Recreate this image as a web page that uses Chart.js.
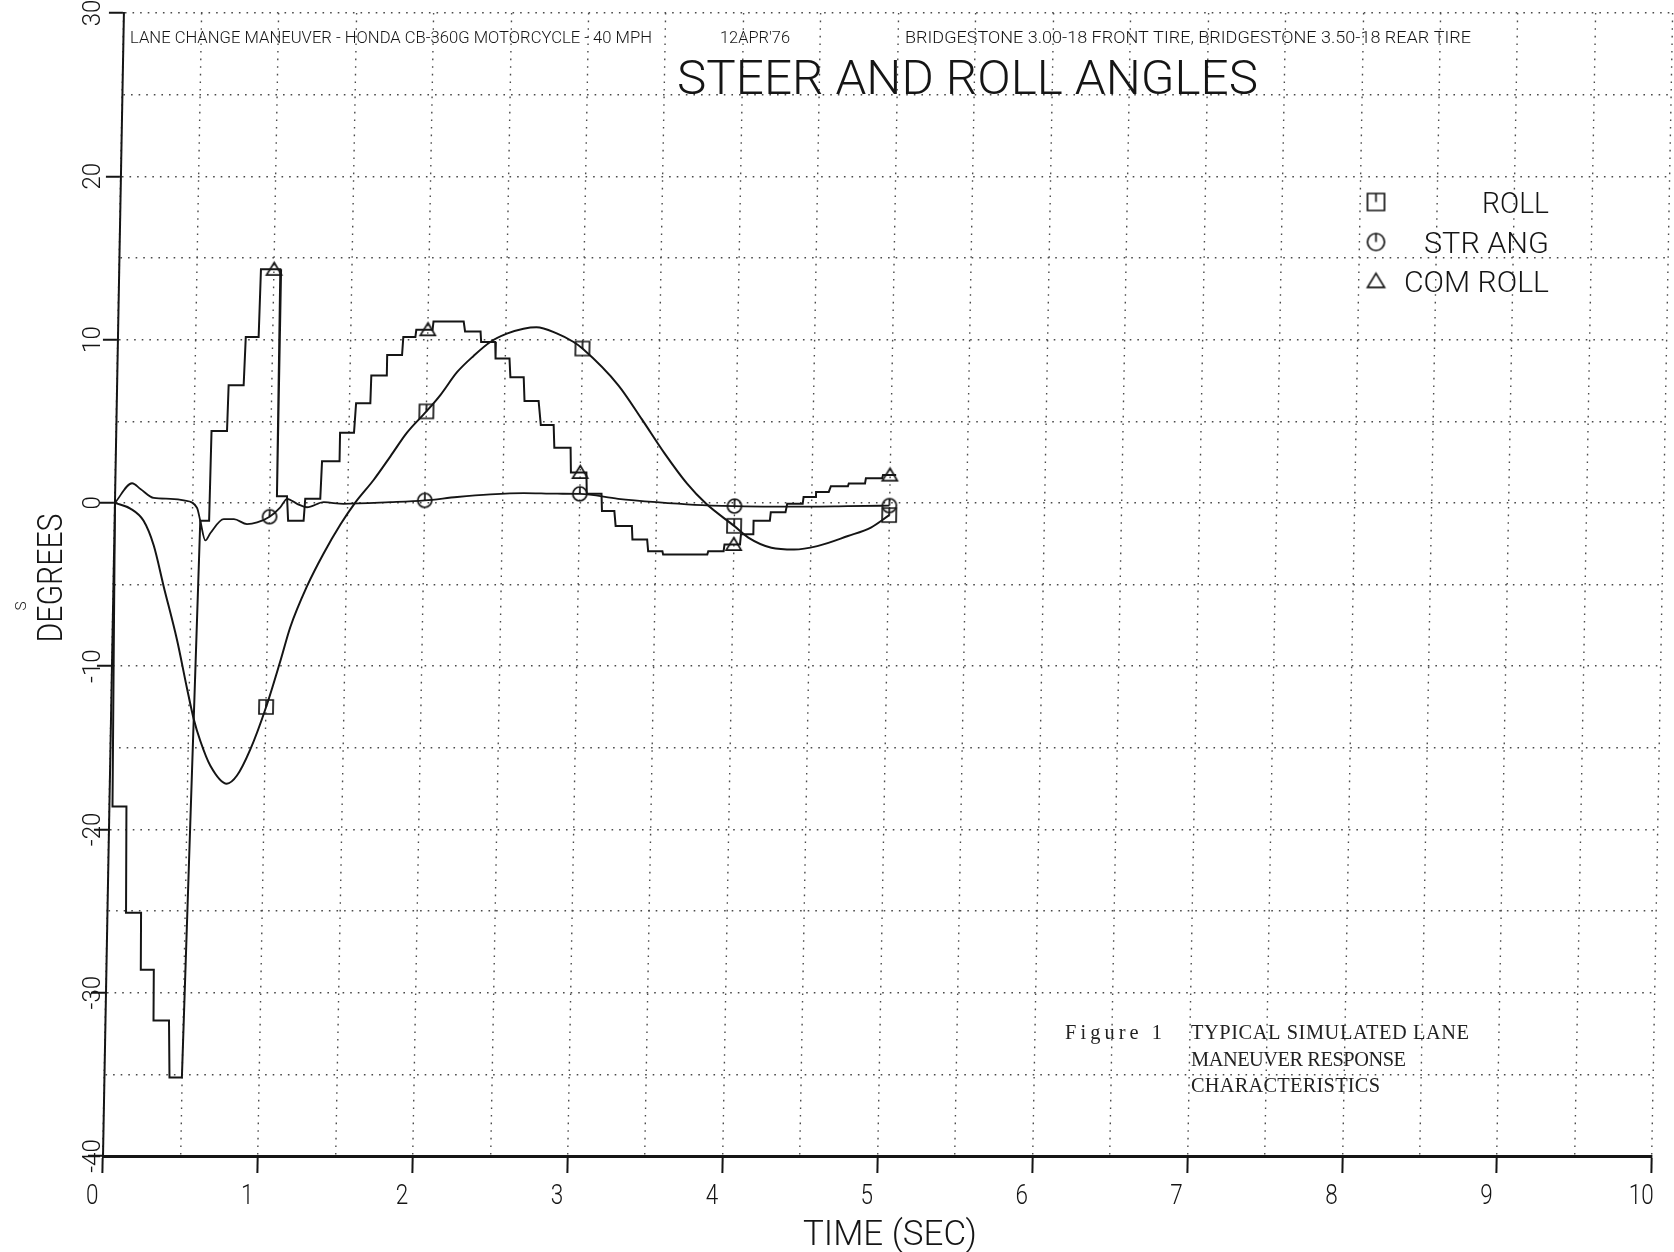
<!DOCTYPE html>
<html>
<head>
<meta charset="utf-8">
<title>Steer and Roll Angles</title>
<script src="https://cdn.jsdelivr.net/npm/chart.js@4.4.1/dist/chart.umd.min.js"></script>
<style>
  html, body { margin: 0; padding: 0; background: #fff; overflow: hidden; }
  #wrap { position: relative; width: 1674px; height: 1252px; }
</style>
</head>
<body>
<div id="wrap"><canvas id="chart" width="1674" height="1252"></canvas></div>
<script>
// ---- Data (time in seconds, angles in degrees) ----
const rollTime = [0, 0.1, 0.187, 0.255, 0.324, 0.417, 0.488, 0.533, 0.58, 0.647, 0.755, 0.82, 0.903, 1.0, 1.086, 1.147, 1.25, 1.353, 1.458, 1.55, 1.667, 1.773, 1.877, 2.0, 2.088, 2.193, 2.298, 2.404, 2.51, 2.617, 2.7, 2.832, 2.942, 3.0, 3.236, 3.39, 3.54, 3.69, 3.817, 4.0, 4.093, 4.243, 4.39, 4.539, 4.736, 4.883, 5.0];
const rollDeg  = [0, -0.35, -1.1, -2.6, -5.1, -8.4, -11.4, -13.2, -14.6, -16.1, -17.2, -16.7, -15.1, -12.5, -9.7, -7.6, -5.1, -3.1, -1.33, 0, 1.4, 2.85, 4.3, 5.6, 6.6, 8.0, 9.0, 9.85, 10.36, 10.66, 10.75, 10.38, 9.85, 9.45, 7.2, 5.14, 3.06, 1.19, -0.06, -1.41, -2.13, -2.75, -2.86, -2.65, -2.03, -1.51, -0.75];

const strTime = [0, 0.108, 0.163, 0.25, 0.358, 0.444, 0.53, 0.553, 0.588, 0.62, 0.704, 0.77, 0.855, 0.92, 1.0, 1.068, 1.111, 1.176, 1.24, 1.348, 1.476, 1.777, 2.0, 2.208, 2.423, 2.638, 2.854, 3.0, 3.248, 3.496, 3.742, 4.0, 4.237, 4.484, 4.73, 5.0];
const strDeg  = [0, 1.2, 0.85, 0.3, 0.25, 0.15, -0.3, -1.1, -2.3, -1.85, -1.0, -1.0, -1.3, -1.2, -0.85, -0.27, 0.25, -0.06, -0.27, 0.04, -0.06, 0.04, 0.15, 0.36, 0.52, 0.6, 0.56, 0.55, 0.25, 0.04, -0.12, -0.2, -0.23, -0.23, -0.2, -0.17];

// commanded roll: sampled-and-held, so each level appears twice
const comTime = [0, 0.02, 0.11, 0.12, 0.217, 0.222, 0.306, 0.31, 0.41, 0.42, 0.5, 0.553, 0.61, 0.615, 0.715, 0.72, 0.817, 0.825, 0.908, 0.915,
  1.0, 1.04, 1.045, 1.11, 1.12, 1.22, 1.228, 1.325, 1.332, 1.44, 1.445, 1.535, 1.545, 1.637, 1.64, 1.737, 1.74, 1.836, 1.842, 1.92, 1.925,
  2.0, 2.03, 2.035, 2.23, 2.24, 2.34, 2.345, 2.436, 2.44, 2.53, 2.538, 2.624, 2.632, 2.723, 2.74, 2.823, 2.83, 2.935, 2.94,
  3.0, 3.04, 3.045, 3.14, 3.145, 3.225, 3.235, 3.34, 3.345, 3.44, 3.448, 3.54, 3.545, 3.83, 3.836, 3.935, 3.94,
  4.0, 4.04, 4.045, 4.12, 4.125, 4.23, 4.235, 4.33, 4.34, 4.44, 4.445, 4.52, 4.525, 4.607, 4.62, 4.73, 4.735, 4.84, 4.845, 4.95, 4.955,
  5.0, 5.04];
const comDeg = [0, -18.6, -18.6, -25.1, -25.1, -28.6, -28.6, -31.7, -31.7, -35.2, -35.2, -1.1, -1.1, 4.4, 4.4, 7.2, 7.2, 10.15, 10.15, 14.3,
  14.3, 14.3, 0.4, 0.4, -1.1, -1.1, 0.25, 0.25, 2.55, 2.55, 4.3, 4.3, 6.1, 6.1, 7.8, 7.8, 9.05, 9.05, 10.15, 10.15, 10.6,
  10.6, 10.6, 11.1, 11.1, 10.5, 10.5, 9.85, 9.85, 8.84, 8.84, 7.7, 7.7, 6.24, 6.24, 4.77, 4.77, 3.38, 3.38, 1.86,
  1.86, 1.86, 0.56, 0.56, -0.5, -0.5, -1.41, -1.41, -2.24, -2.24, -2.96, -2.96, -3.17, -3.17, -2.96, -2.96, -2.55,
  -2.55, -2.55, -1.93, -1.93, -1.1, -1.1, -0.58, -0.58, -0.06, -0.06, 0.36, 0.36, 0.67, 0.67, 1.02, 1.02, 1.19, 1.19, 1.5, 1.5, 1.7,
  1.7, 1.7];

const markerTimes = [1, 2, 3, 4, 5];
const xTickLabels = [0, 1, 2, 3, 4, 5, 6, 7, 8, 9, 10];
const yTickLabels = [30, 20, 10, 0, -10, -20, -30, -40];
const seriesNames = ['ROLL', 'STR ANG', 'COM ROLL'];

// ---- Drawing helpers ----
const INK = '#151515';
const PLOT_FONT = '"Roboto", "Lato", "DejaVu Sans", sans-serif';
const TYPE_FONT = '"Liberation Serif", "DejaVu Serif", serif';
const SHEAR = 0.0183;   // pen-plotter frame leans slightly to the right

function makeSymbol(kind, size) {
  const pad = 3, n = size + pad * 2;
  const c = document.createElement('canvas');
  c.width = n; c.height = n;
  const g = c.getContext('2d');
  g.strokeStyle = INK; g.lineWidth = 1.7; g.lineJoin = 'miter';
  const m = n / 2, h = size / 2;
  g.beginPath();
  if (kind === 'square') {
    g.rect(m - h, m - h, size, size);
    g.moveTo(m, m - h); g.lineTo(m, m);
  } else if (kind === 'circle') {
    g.arc(m, m, h, 0, Math.PI * 2);
    g.moveTo(m, m - h); g.lineTo(m, m);
  } else {
    g.moveTo(m, m - h * 0.9);
    g.lineTo(m + h, m + h * 0.75);
    g.lineTo(m - h, m + h * 0.75);
    g.closePath();
  }
  g.stroke();
  return c;
}
const symSquare = makeSymbol('square', 14), symCircle = makeSymbol('circle', 14), symTri = makeSymbol('triangle', 15);
const legSquare = makeSymbol('square', 17), legCircle = makeSymbol('circle', 17), legTri = makeSymbol('triangle', 17);

function pts(ts, vs) { return ts.map((t, i) => ({ x: t, y: vs[i] })); }
const isMarker = c => c.raw && markerTimes.includes(c.raw.x);

function plotText(ctx, str, o) {
  const capRatio = o.serif ? 0.662 : 0.711;
  const size = o.cap / capRatio;
  ctx.save();
  ctx.font = (o.serif ? '400 ' : '300 ') + size.toFixed(2) + 'px ' + (o.serif ? TYPE_FONT : PLOT_FONT);
  let sx = o.sx || 1;
  if (o.width) {
    const natural = ctx.measureText(str).width;
    if (o.spaced && 'letterSpacing' in ctx) {
      // typewriter pitch: widen the gaps, keep the glyphs
      ctx.letterSpacing = ((o.width - natural) / Math.max(1, str.length - 1)).toFixed(2) + 'px';
    } else {
      sx = o.width / natural;
    }
  }
  ctx.translate(o.x, o.y);
  if (o.rot) ctx.rotate(o.rot);
  ctx.scale(sx, 1);
  ctx.textAlign = o.align || 'left';
  ctx.textBaseline = 'alphabetic';
  ctx.fillStyle = o.color || INK;
  ctx.fillText(str, 0, 0);
  ctx.restore();
}

const plotterPlugin = {
  id: 'plotter',
  beforeDraw(chart) {
    const ctx = chart.ctx;
    ctx.save();
    ctx.fillStyle = '#fff';
    ctx.fillRect(0, 0, chart.width, chart.height);
    const b = chart.chartArea.bottom;
    ctx.transform(1, 0, -SHEAR, 1, SHEAR * b, 0);
  },
  afterDraw(chart) {
    const ctx = chart.ctx;
    ctx.restore();
    const xs = chart.scales.x, ys = chart.scales.y;
    const b = chart.chartArea.bottom;
    const lean = y => SHEAR * (b - y);

    // axis numbers
    xTickLabels.forEach(t => {
      plotText(ctx, String(t), { x: xs.getPixelForValue(t) + lean(1195) - 10, y: 1204, cap: 20, align: 'center', sx: 0.8 });
    });
    yTickLabels.forEach(v => {
      plotText(ctx, String(v), { x: 100, y: ys.getPixelForValue(v), cap: 18, rot: -Math.PI / 2, align: 'center', sx: 0.95 });
    });

    // axis titles
    plotText(ctx, 'TIME (SEC)', { x: 890, y: 1245, cap: 25, width: 174, align: 'center' });
    plotText(ctx, 'DEGREES', { x: 62, y: 578, cap: 25, width: 129, rot: -Math.PI / 2, align: 'center' });
    plotText(ctx, 'S', { x: 26, y: 606, cap: 11, rot: -Math.PI / 2, align: 'center' });

    // header lines
    plotText(ctx, 'LANE CHANGE MANEUVER - HONDA CB-360G MOTORCYCLE - 40 MPH', { x: 130, y: 43, cap: 11.5, width: 522 });
    plotText(ctx, "12APR'76", { x: 720, y: 43, cap: 11.5, width: 70 });
    plotText(ctx, 'BRIDGESTONE 3.00-18 FRONT TIRE, BRIDGESTONE 3.50-18 REAR TIRE', { x: 905, y: 43, cap: 11.5, width: 566 });
    plotText(ctx, 'STEER AND ROLL ANGLES', { x: 677, y: 94, cap: 34, width: 581 });

    // key
    const keySyms = [legSquare, legCircle, legTri];
    const keyY = [202, 242, 281];
    const keyW = [67, 125, 145];
    seriesNames.forEach((name, i) => {
      const s = keySyms[i];
      ctx.drawImage(s, 1376 - s.width / 2, keyY[i] - s.height / 2);
      plotText(ctx, name, { x: 1549, y: keyY[i] + 11, cap: 21.5, width: keyW[i], align: 'right' });
    });

    // typed caption
    const cap = { cap: 13.5, serif: true, spaced: true, color: '#222' };
    plotText(ctx, 'Figure 1', { ...cap, x: 1065, y: 1039, width: 97 });
    plotText(ctx, 'TYPICAL SIMULATED LANE', { ...cap, x: 1191, y: 1039, width: 278 });
    plotText(ctx, 'MANEUVER RESPONSE', { ...cap, x: 1191, y: 1065.5, width: 215 });
    plotText(ctx, 'CHARACTERISTICS', { ...cap, x: 1191, y: 1092, width: 189 });
  }
};

const gridDots = { color: '#4a4a4a', lineWidth: 1.4 };

new Chart(document.getElementById('chart'), {
  type: 'line',
  data: {
    datasets: [
      {
        label: seriesNames[0], data: pts(rollTime, rollDeg),
        borderColor: INK, borderWidth: 2, cubicInterpolationMode: 'monotone', fill: false,
        pointStyle: symSquare, pointRadius: c => isMarker(c) ? 8 : 0
      },
      {
        label: seriesNames[1], data: pts(strTime, strDeg),
        borderColor: INK, borderWidth: 1.8, cubicInterpolationMode: 'monotone', fill: false,
        pointStyle: symCircle, pointRadius: c => isMarker(c) ? 8 : 0
      },
      {
        label: seriesNames[2], data: pts(comTime, comDeg),
        borderColor: INK, borderWidth: 2, tension: 0, fill: false,
        pointStyle: symTri, pointRadius: c => isMarker(c) ? 8 : 0
      }
    ]
  },
  options: {
    responsive: false,
    animation: false,
    devicePixelRatio: 1,
    events: [],
    layout: { padding: { top: 13, right: 22, bottom: 0, left: 0 } },
    plugins: { legend: { display: false }, tooltip: { enabled: false }, title: { display: false } },
    scales: {
      x: {
        type: 'linear', min: 0, max: 10,
        ticks: { display: false, stepSize: 0.5 },
        grid: {
          ...gridDots, drawTicks: true, tickLength: 17, tickWidth: 2,
          tickColor: c => (c.tick && Math.abs(c.tick.value - Math.round(c.tick.value)) < 1e-6) ? INK : 'rgba(0,0,0,0)'
        },
        border: { display: true, color: INK, width: 3, dash: [1.6, 6] },
        afterFit(s) { s.height = 96; }
      },
      y: {
        type: 'linear', min: -40, max: 30,
        ticks: { display: false, stepSize: 5 },
        grid: {
          ...gridDots, drawTicks: true, tickLength: 15, tickWidth: 2,
          tickColor: c => (c.tick && c.tick.value % 10 === 0) ? INK : 'rgba(0,0,0,0)'
        },
        border: { display: true, color: INK, width: 2, dash: [1.6, 6] },
        afterFit(s) { s.width = 103; }
      }
    }
  },
  plugins: [plotterPlugin]
});
</script>
</body>
</html>
